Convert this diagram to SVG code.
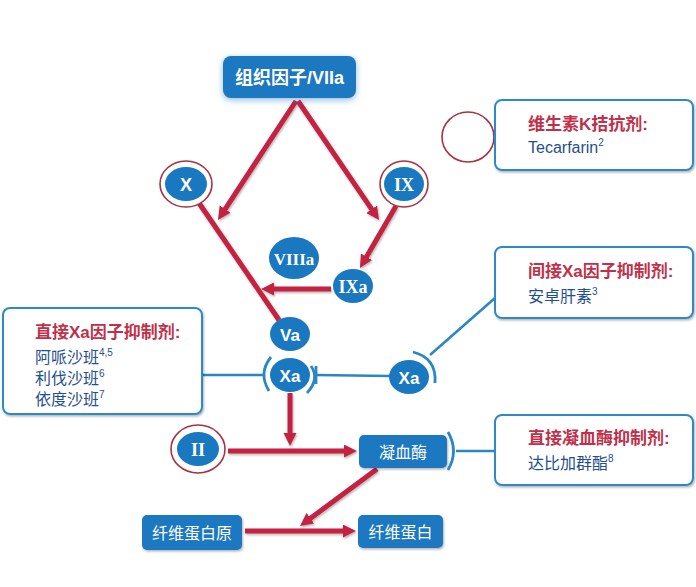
<svg xmlns="http://www.w3.org/2000/svg" width="696" height="587" viewBox="0 0 696 587">
<style>
.bg{fill:#ffffff}
.node{fill:#1a78c0}
.ring{fill:#ffffff;stroke:#a8323f;stroke-width:1.6}
.lbl{fill:#ffffff;font-family:"Liberation Sans","Noto Sans CJK SC",sans-serif;font-weight:bold;text-anchor:middle}
.rom{fill:#ffffff;font-family:"Liberation Serif","Noto Serif",serif;font-weight:bold;text-anchor:middle}
.cjk{fill:#ffffff;font-family:"Liberation Sans","Noto Sans CJK SC",sans-serif;text-anchor:middle;font-size:16px}
.box{fill:#ffffff;stroke:#2f8ac6;stroke-width:2}
.ttl{fill:#c0304a;font-family:"Liberation Sans","Noto Sans CJK SC",sans-serif;font-weight:bold;font-size:17px}
.txt{fill:#1f4f8e;font-family:"Liberation Sans","Noto Sans CJK SC",sans-serif;font-size:16px}
.sup{font-size:10px}
.red{stroke:#c3213f;stroke-width:5;fill:none;marker-end:url(#ah)}
.redn{stroke:#c3213f;stroke-width:5;fill:none}
.blue{stroke:#2a86c4;stroke-width:2.5;fill:none}
.brk{stroke:#2a86c4;stroke-width:2.8;fill:none}
</style>
<defs>
<marker id="ah" markerUnits="userSpaceOnUse" markerWidth="14" markerHeight="14" refX="2" refY="6.5" orient="auto">
<path d="M0,0 L13,6.5 L0,13 Z" fill="#c3213f"/>
</marker>
<filter id="sh" x="-20%" y="-20%" width="140%" height="140%">
<feDropShadow dx="1" dy="1.5" stdDeviation="1.2" flood-color="#000" flood-opacity="0.3"/>
</filter>
<filter id="lsh" filterUnits="userSpaceOnUse" x="0" y="0" width="696" height="587">
<feDropShadow dx="1" dy="1.5" stdDeviation="1" flood-color="#000" flood-opacity="0.3"/>
</filter>
<filter id="glow" x="-20%" y="-30%" width="140%" height="160%">
<feDropShadow dx="0" dy="2" stdDeviation="3" flood-color="#1a78c0" flood-opacity="0.5"/>
</filter>
</defs>
<rect class="bg" x="0" y="0" width="696" height="587"/>

<g id="connectors">
<g filter="url(#lsh)">
<line class="red" x1="296" y1="101" x2="224" y2="210.8"/>
<line class="red" x1="298" y1="101" x2="372.8" y2="210.9"/>
<line class="redn" x1="199" y1="203" x2="279" y2="320"/>
<line class="red" x1="396" y1="206" x2="365.5" y2="258.5"/>
<line class="red" x1="331" y1="289" x2="272" y2="289"/>
<line class="red" x1="290" y1="393" x2="290" y2="435"/>
<line class="red" x1="228" y1="451" x2="346" y2="451"/>
<line class="red" x1="377" y1="469" x2="308.8" y2="519.5"/>
<line class="red" x1="245" y1="531" x2="345" y2="531"/>
</g>
<line class="blue" x1="202" y1="375" x2="264" y2="375"/>
<line class="blue" x1="316" y1="375" x2="390" y2="376"/>
<line class="brk" x1="316" y1="366" x2="316" y2="384"/>
<line class="blue" x1="430" y1="355" x2="495" y2="298"/>
<line class="blue" x1="456" y1="451" x2="495" y2="451"/>
</g>

<g id="tf">
<rect x="223" y="56" width="133" height="42" rx="8" class="node" filter="url(#glow)"/>
<text x="289.5" y="84" class="lbl" font-size="18">组织因子/VIIa</text>
</g>

<g id="x">
<ellipse cx="186" cy="184" rx="26" ry="23" class="ring"/>
<ellipse cx="186" cy="184" rx="21" ry="17" class="node"/>
<text x="186" y="190.5" class="lbl" font-size="18">X</text>
</g>

<g id="ix">
<ellipse cx="404" cy="184" rx="24" ry="23" class="ring"/>
<ellipse cx="404" cy="184" rx="20" ry="17" class="node"/>
<text x="404" y="190.5" class="rom" font-size="18">IX</text>
</g>

<g id="viiia">
<ellipse cx="294" cy="258" rx="25" ry="21" class="node"/>
<text x="294" y="264.5" class="rom" font-size="17">VIIIa</text>
</g>

<g id="ixa">
<ellipse cx="353" cy="286" rx="20" ry="17" class="node"/>
<text x="353" y="292.5" class="rom" font-size="18">IXa</text>
</g>

<g id="va">
<ellipse cx="290" cy="334" rx="20" ry="17" class="node"/>
<text x="290" y="340.5" class="lbl" font-size="17">Va</text>
</g>

<g id="xa">
<ellipse cx="290" cy="375" rx="20" ry="17" class="node"/>
<text x="290" y="381.5" class="lbl" font-size="17">Xa</text>
<path class="brk" d="M271,357 Q258,373 269,391"/>
<path class="brk" d="M311,366 Q320,379 307,393"/>
</g>

<g id="xa2">
<ellipse cx="409" cy="377" rx="20" ry="17" class="node"/>
<text x="409" y="383.5" class="lbl" font-size="17">Xa</text>
<path class="brk" d="M413,352 Q437,358 435,383"/>
</g>

<g id="ii">
<ellipse cx="198" cy="449" rx="27" ry="24" class="ring"/>
<ellipse cx="198" cy="449" rx="21" ry="17" class="node"/>
<text x="198" y="455.5" class="rom" font-size="18">II</text>
</g>

<g id="thrombin">
<rect x="359" y="435" width="88" height="33" rx="5" class="node" filter="url(#sh)"/>
<text x="403" y="457.5" class="cjk" font-size="17">凝血酶</text>
<path class="brk" d="M448,432 Q459,451 448,470"/>
</g>

<g id="fibrinogen">
<rect x="142" y="515" width="100" height="35" rx="5" class="node" filter="url(#sh)"/>
<text x="192" y="538.5" class="cjk">纤维蛋白原</text>
</g>

<g id="fibrin">
<rect x="358" y="515" width="85" height="33" rx="5" class="node" filter="url(#sh)"/>
<text x="400.5" y="537.5" class="cjk">纤维蛋白</text>
</g>

<g id="vitk-ring">
<ellipse cx="468" cy="137" rx="26" ry="25" class="ring"/>
</g>

<g id="vitk">
<rect x="495" y="100" width="198" height="70" rx="7" class="box" filter="url(#sh)"/>
<text x="528" y="130" class="ttl">维生素K拮抗剂:</text>
<text x="528" y="153" class="txt">Tecarfarin<tspan class="sup" dy="-7">2</tspan></text>
</g>

<g id="indirect">
<rect x="495" y="247" width="198" height="71" rx="7" class="box" filter="url(#sh)"/>
<text x="528" y="277" class="ttl">间接Xa因子抑制剂:</text>
<text x="528" y="302" class="txt">安卓肝素<tspan class="sup" dy="-7">3</tspan></text>
</g>

<g id="direct-thrombin">
<rect x="495" y="415" width="198" height="70" rx="7" class="box" filter="url(#sh)"/>
<text x="528" y="444" class="ttl">直接凝血酶抑制剂:</text>
<text x="528" y="469" class="txt">达比加群酯<tspan class="sup" dy="-7">8</tspan></text>
</g>

<g id="direct-xa">
<rect x="3" y="308" width="199" height="106" rx="7" class="box" filter="url(#sh)"/>
<text x="35" y="338" class="ttl">直接Xa因子抑制剂:</text>
<text x="35" y="363" class="txt">阿哌沙班<tspan class="sup" dy="-7">4,5</tspan></text>
<text x="35" y="384" class="txt">利伐沙班<tspan class="sup" dy="-7">6</tspan></text>
<text x="35" y="405" class="txt">依度沙班<tspan class="sup" dy="-7">7</tspan></text>
</g>
</svg>
